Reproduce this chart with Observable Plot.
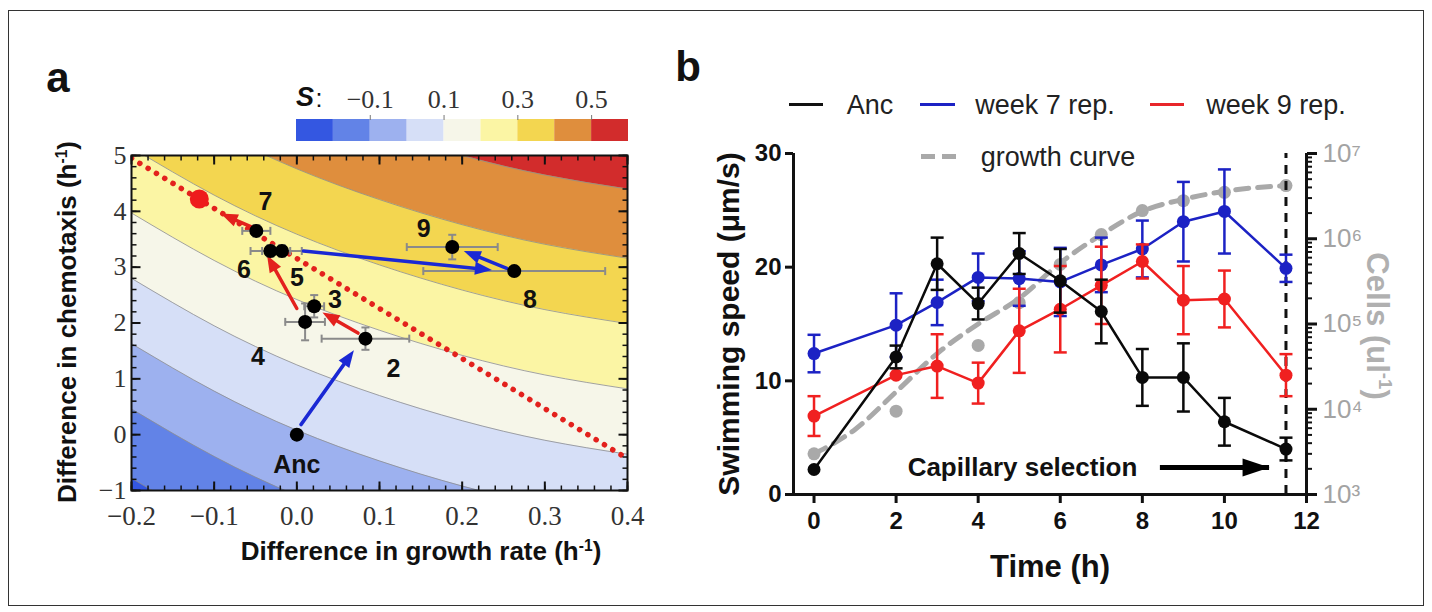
<!DOCTYPE html>
<html><head><meta charset="utf-8">
<script src="https://cdn.jsdelivr.net/npm/d3@7"></script>
<script src="https://cdn.jsdelivr.net/npm/@observablehq/plot@0.6"></script>
<style>
body{margin:0;background:#fff;font-family:"Liberation Sans",Arial,sans-serif;}
#root{position:relative;width:1432px;height:612px;overflow:hidden;background:#fff;}
.t{position:absolute;white-space:nowrap;line-height:1;}
</style></head><body><div id="root"></div>
<script>
// ---------- Panel a data ----------
const gridGrowth = [-0.2, -0.1, 0, 0.1, 0.2, 0.3, 0.4];
const contourLevels = [-0.2, -0.1, 0, 0.1, 0.2, 0.3, 0.4, 0.5];
const contourChemo = [
  [-0.78, -1.63, -2.33, -2.88, -3.33, -3.68, -3.93],
  [0.46, -0.39, -1.09, -1.64, -2.09, -2.44, -2.69],
  [1.63, 0.78, 0.08, -0.47, -0.92, -1.27, -1.52],
  [2.80, 1.95, 1.25, 0.70, 0.25, -0.10, -0.35],
  [3.97, 3.12, 2.42, 1.87, 1.42, 1.07, 0.82],
  [5.14, 4.29, 3.59, 3.04, 2.59, 2.24, 1.99],
  [6.31, 5.46, 4.76, 4.21, 3.76, 3.41, 3.16],
  [7.55, 6.70, 6.00, 5.45, 5.00, 4.65, 4.40]
];
const bandColors = ["#3457e1", "#6283e7", "#9db1ef", "#d6dff7", "#f6f6e9", "#fbf5a4", "#f3d650", "#df8e3d", "#d22c2c"];
const colorbarStarts = [-0.3, -0.2, -0.1, 0, 0.1, 0.2, 0.3, 0.4, 0.5];
const colorbarTicks = [-0.1, 0.1, 0.3, 0.5];

const labelsA = ["Anc", "2", "3", "4", "5", "6", "7", "8", "9"];
const growthDiff = [0.000, 0.083, 0.021, 0.010, -0.018, -0.032, -0.049, 0.263, 0.188];
const chemoDiff = [0.00, 1.72, 2.30, 2.02, 3.29, 3.29, 3.65, 2.93, 3.36];
const growthErr = [0.000, 0.053, 0.012, 0.024, 0.024, 0.024, 0.017, 0.110, 0.055];
const chemoErr = [0.08, 0.20, 0.20, 0.33, 0.10, 0.10, 0.10, 0.05, 0.22];
const labelGrowth = [0.000, 0.117, 0.046, -0.047, 0.000, -0.064, -0.038, 0.282, 0.1535];
const labelChemo = [-0.55, 1.18, 2.41, 1.40, 2.80, 2.95, 4.17, 2.41, 3.69];

const arrowFromGrowth = [0.005, 0.074, 0.000, -0.055, 0.008, 0.254];
const arrowFromChemo = [0.18, 1.82, 2.26, 3.72, 3.29, 2.98];
const arrowToGrowth = [0.069, 0.031, -0.036, -0.092, 0.236, 0.202];
const arrowToChemo = [1.51, 2.19, 3.215, 3.96, 2.95, 3.29];
const arrowKind = ["blue", "red", "red", "red", "blue", "blue"];

const optimumGrowth = [-0.118];
const optimumChemo = [4.22];
const frontGrowth = [-0.2, 0.4];
const frontChemo = [4.95, -0.43];

const xTicksA = [-0.2, -0.1, 0, 0.1, 0.2, 0.3, 0.4];
const yTicksA = [-1, 0, 1, 2, 3, 4, 5];

// ---------- Panel b data ----------
const timeH = [0, 2, 3, 4, 5, 6, 7, 8, 9, 10, 11.5];
const ancSpeed = [2.2, 12.1, 20.3, 16.8, 21.2, 18.8, 16.1, 10.3, 10.3, 6.4, 4.0];
const ancErr = [0, 1.0, 2.3, 1.4, 1.8, 2.8, 2.8, 2.5, 3.0, 2.1, 1.0];
const wk7Speed = [12.4, 14.9, 16.9, 19.1, 19.0, 18.7, 20.2, 21.6, 24.0, 24.9, 19.9];
const wk7Err = [1.65, 2.8, 2.0, 2.1, 2.4, 3.0, 2.4, 2.5, 3.5, 3.7, 1.2];
const wk9Speed = [6.9, 10.5, 11.3, 9.8, 14.4, 16.3, 18.4, 20.5, 17.1, 17.2, 10.5];
const wk9Err = [1.75, 0, 2.8, 1.8, 3.7, 3.8, 3.4, 1.5, 3.0, 2.5, 1.85];

const growthDotTime = [0, 2, 4, 5, 6, 7, 8, 9, 10, 11.5];
const growthDotCells = [3000, 9500, 56000, 178000, 500000, 1120000, 2140000, 2800000, 3500000, 4200000];
const growthCurveTime = [0, 1, 2, 3, 4, 5, 6, 7, 8, 9, 10, 11.5];
const growthCurveCells = [3000, 5800, 16000, 45000, 100000, 200000, 520000, 1120000, 2100000, 2900000, 3600000, 4200000];

const xTicksB = [0, 2, 4, 6, 8, 10, 12];
const yTicksB = [0, 10, 20, 30];
const cellDecades = [1e3, 1e4, 1e5, 1e6, 1e7];
const selectionTime = [11.5];
const captionPos = {x: 5.08, y: 2.37};
const captionArrow = {x1: 8.44, x2: 11.1, y: 2.37};

// ---------- helpers ----------
const root = document.getElementById("root");
function mount(svg, left, top) {
  svg.style.position = "absolute";
  svg.style.left = left + "px";
  svg.style.top = top + "px";
  svg.style.background = "transparent";
  svg.style.overflow = "visible";
  svg.style.maxWidth = "none";
  root.appendChild(svg);
}
function label(html, cx, cy, css, rot = 0) {
  const d = document.createElement("div");
  d.className = "t";
  d.innerHTML = html;
  d.style.cssText += `left:${cx}px;top:${cy}px;transform:translate(-50%,-50%) rotate(${rot}deg);${css}`;
  root.appendChild(d);
}
function swatch(x, y, w, h, color) {
  const d = document.createElement("div");
  d.style.cssText = `position:absolute;left:${x}px;top:${y}px;width:${w}px;height:${h}px;background:${color};`;
  root.appendChild(d);
}
const vline = {draw(ctx, size) { const r = Math.sqrt(size / Math.PI); ctx.moveTo(0, -r); ctx.lineTo(0, r); }};
const hline = {draw(ctx, size) { const r = Math.sqrt(size / Math.PI); ctx.moveTo(-r, 0); ctx.lineTo(r, 0); }};
function headSymbol(angle, L, W) {
  const c = Math.cos(angle), s = Math.sin(angle);
  return {draw(ctx) {
    const bx = -L * c, by = -L * s, px = -s * W / 2, py = c * W / 2;
    ctx.moveTo(0, 0); ctx.lineTo(bx + px, by + py); ctx.lineTo(bx - px, by - py); ctx.closePath();
  }};
}
const minus = (s) => String(s).replace("-", "\u2212");
const SANS = "Liberation Sans, Arial, sans-serif";
const SERIF = "Liberation Serif, Times New Roman, serif";

// ---------- Panel a ----------
const idxA = labelsA.map((_, i) => i);
const bands = contourLevels.map((lev, j) => gridGrowth.map((g, i) => ({g, c: contourChemo[j][i]})));
const fillTop = 9;
const xMinorA = d3.range(-0.2, 0.4001, 0.02);
const yMinorA = d3.range(-1, 5.001, 0.2);
const xDomA = [-0.2, 0.4], yDomA = [-1, 5];
const arrowColors = {blue: "#1a28d4", red: "#e3211d"};
const idxArrow = arrowKind.map((k, i) => i);

function buildA(extra) {
  return Plot.plot({
    width: 660, height: 612,
    marginLeft: 131, marginRight: 33, marginTop: 155, marginBottom: 122,
    x: {domain: xDomA}, y: {domain: yDomA},
    style: {background: "transparent", overflow: "visible"},
    marks: [
      Plot.frame({fill: bandColors[0]}),
      ...bands.map((pts, j) => Plot.areaY(pts, {x: "g", y1: "c", y2: () => fillTop, fill: bandColors[j + 1], curve: "natural", clip: true})),
      ...bands.map((pts) => Plot.line(pts, {x: "g", y: "c", stroke: "#8d8d8d", strokeWidth: 1, strokeOpacity: 0.8, curve: "natural", clip: true})),
      Plot.line(frontGrowth.map((g, i) => ({g, c: frontChemo[i]})), {x: "g", y: "c", stroke: "#e3211d", strokeWidth: 5.5, strokeDasharray: "0.1 9.6", strokeLinecap: "round", clip: true}),
      // error bars
      Plot.ruleY(idxA.filter(i => growthErr[i] > 0), {y: i => chemoDiff[i], x1: i => growthDiff[i] - growthErr[i], x2: i => growthDiff[i] + growthErr[i], stroke: "#8a8a8a", strokeWidth: 2}),
      Plot.dot(idxA.filter(i => growthErr[i] > 0), {x: i => growthDiff[i] - growthErr[i], y: i => chemoDiff[i], symbol: vline, r: 4, stroke: "#8a8a8a", strokeWidth: 2, fill: "none"}),
      Plot.dot(idxA.filter(i => growthErr[i] > 0), {x: i => growthDiff[i] + growthErr[i], y: i => chemoDiff[i], symbol: vline, r: 4, stroke: "#8a8a8a", strokeWidth: 2, fill: "none"}),
      Plot.ruleX(idxA, {x: i => growthDiff[i], y1: i => chemoDiff[i] - chemoErr[i], y2: i => chemoDiff[i] + chemoErr[i], stroke: "#8a8a8a", strokeWidth: 2}),
      Plot.dot(idxA, {x: i => growthDiff[i], y: i => chemoDiff[i] - chemoErr[i], symbol: hline, r: 4, stroke: "#8a8a8a", strokeWidth: 2, fill: "none"}),
      Plot.dot(idxA, {x: i => growthDiff[i], y: i => chemoDiff[i] + chemoErr[i], symbol: hline, r: 4, stroke: "#8a8a8a", strokeWidth: 2, fill: "none"}),
      // arrow shafts
      ...["red", "blue"].map(k => Plot.arrow(idxArrow.filter(i => arrowKind[i] === k), {x1: i => arrowFromGrowth[i], y1: i => arrowFromChemo[i], x2: i => arrowToGrowth[i], y2: i => arrowToChemo[i], stroke: arrowColors[k], strokeWidth: 3.5, headLength: 0, insetEnd: 8})),
      ...extra,
      Plot.dot(optimumGrowth, {x: d => d, y: (d, i) => optimumChemo[i], r: 9.5, fill: "#ee1c1c"}),
      Plot.dot(idxA, {x: i => growthDiff[i], y: i => chemoDiff[i], r: 7, fill: "#000"}),
      Plot.text(idxA, {x: i => labelGrowth[i], y: i => labelChemo[i], text: i => labelsA[i], fontSize: 25, fontWeight: "bold", fill: "#111", fontFamily: SANS}),
      Plot.frame({stroke: "#111", strokeWidth: 2}),
      // inward ticks
      Plot.dot(xMinorA, {x: d => d, y: () => yDomA[0], symbol: vline, r: 2.5, dy: -2.5, stroke: "#111", strokeWidth: 1.5}),
      Plot.dot(xMinorA, {x: d => d, y: () => yDomA[1], symbol: vline, r: 2.5, dy: 2.5, stroke: "#111", strokeWidth: 1.5}),
      Plot.dot(xTicksA, {x: d => d, y: () => yDomA[0], symbol: vline, r: 4.5, dy: -4.5, stroke: "#111", strokeWidth: 2}),
      Plot.dot(xTicksA, {x: d => d, y: () => yDomA[1], symbol: vline, r: 4.5, dy: 4.5, stroke: "#111", strokeWidth: 2}),
      Plot.dot(yMinorA, {y: d => d, x: () => xDomA[0], symbol: hline, r: 2.5, dx: 2.5, stroke: "#111", strokeWidth: 1.5}),
      Plot.dot(yMinorA, {y: d => d, x: () => xDomA[1], symbol: hline, r: 2.5, dx: -2.5, stroke: "#111", strokeWidth: 1.5}),
      Plot.dot(yTicksA, {y: d => d, x: () => xDomA[0], symbol: hline, r: 4.5, dx: 4.5, stroke: "#111", strokeWidth: 2}),
      Plot.dot(yTicksA, {y: d => d, x: () => xDomA[1], symbol: hline, r: 4.5, dx: -4.5, stroke: "#111", strokeWidth: 2}),
      Plot.axisX({anchor: "bottom", ticks: xTicksA, tickSize: 0, tickPadding: 15, tickFormat: d => minus(d.toFixed(1)), fontSize: 27, fontFamily: SERIF, fill: "#333", label: null}),
      Plot.axisY({anchor: "left", ticks: yTicksA, tickSize: 0, tickPadding: 5, tickFormat: d => minus(d), fontSize: 26, fontFamily: SERIF, fill: "#333", label: null})
    ]
  });
}
// first pass: read the scales to orient the filled arrow heads
const probe = buildA([]);
const sxA = probe.scale("x"), syA = probe.scale("y");
const headMarks = idxArrow.map(i => {
  const ang = Math.atan2(syA.apply(arrowToChemo[i]) - syA.apply(arrowFromChemo[i]), sxA.apply(arrowToGrowth[i]) - sxA.apply(arrowFromGrowth[i]));
  return Plot.dot([i], {x: j => arrowToGrowth[j], y: j => arrowToChemo[j], symbol: headSymbol(ang, 17, 13), r: 5, fill: arrowColors[arrowKind[i]], stroke: "none"});
});
mount(buildA(headMarks), 0, 0);

// colorbar
const cbar = Plot.plot({
  width: 372, height: 141,
  marginLeft: 20, marginRight: 20, marginTop: 119, marginBottom: 0,
  x: {domain: [colorbarStarts[0], colorbarStarts[colorbarStarts.length - 1] + 0.1]},
  color: {type: "identity"},
  style: {background: "transparent", overflow: "visible"},
  marks: [
    Plot.rect(colorbarStarts, {x1: d => d, x2: d => d + 0.1, fill: (d, i) => bandColors[i]}),
    Plot.axisX({anchor: "top", ticks: colorbarTicks, tickSize: 5, tickPadding: 7, tickFormat: d => minus(d.toFixed(1)), fontSize: 26, fontFamily: SERIF, fill: "#333", stroke: "#777", label: null})
  ]
});
mount(cbar, 276, 0);
label("S", 305, 97, "font-size:27px;font-weight:bold;font-style:italic;color:#111;");
label(":", 319, 98, "font-size:25px;color:#111;");

// panel a titles
label("a", 58, 78, "font-size:42px;font-weight:bold;color:#111;");
label("Difference in chemotaxis (h<sup style='font-size:0.6em;vertical-align:0.6em'>-1</sup>)", 67, 322, "font-size:26px;font-weight:bold;color:#111;", -90);
label("Difference in growth rate (h<sup style='font-size:0.6em;vertical-align:0.6em'>-1</sup>)", 421, 551, "font-size:26px;font-weight:bold;color:#111;");

// ---------- Panel b ----------
const xDomB = [-0.5, 12], yDomB = [0, 30];
const cellDomain = [cellDecades[0], cellDecades[cellDecades.length - 1]];
const minorCells = [];
for (let k = 0; k < cellDecades.length - 1; k++) for (let m = 2; m <= 9; m++) minorCells.push(cellDecades[k] * m);
const sup = {"3": "\u00b3", "4": "\u2074", "5": "\u2075", "6": "\u2076", "7": "\u2077"};
const commonB = {width: 772, height: 612, marginLeft: 133, marginRight: 126, marginTop: 153, marginBottom: 118,
  style: {background: "transparent", overflow: "visible"}};

const growthPlot = Plot.plot({
  ...commonB,
  x: {domain: xDomB}, y: {type: "log", domain: cellDomain},
  marks: [
    Plot.line(growthCurveTime, {x: d => d, y: (d, i) => growthCurveCells[i], stroke: "#a9a9a9", strokeWidth: 5, strokeDasharray: "13 9", curve: "monotone-x"}),
    Plot.dot(growthDotTime, {x: d => d, y: (d, i) => growthDotCells[i], r: 6.5, fill: "#a9a9a9"}),
    Plot.ruleX([xDomB[1]], {y1: cellDomain[0], y2: cellDomain[1], stroke: "#111", strokeWidth: 3}),
    Plot.axisY({anchor: "right", ticks: minorCells, tickSize: 5, tickFormat: () => "", stroke: "#111", strokeWidth: 2, label: null}),
    Plot.axisY({anchor: "right", ticks: cellDecades, tickSize: 10, tickFormat: () => "", stroke: "#111", strokeWidth: 3, label: null}),
    Plot.axisY({anchor: "right", ticks: cellDecades, tickSize: 0, tickPadding: 16, tickFormat: d => "10" + sup[String(Math.round(Math.log10(d)))], fontSize: 26, fill: "#a3a3a3", fontFamily: SANS, label: null}),
    Plot.axisX({ticks: [], label: null})
  ]
});
mount(growthPlot, 660, 0);

function series(values, errs, color) {
  const idx = timeH.map((_, i) => i);
  const e = idx.filter(i => errs[i] > 0);
  return [
    Plot.ruleX(e, {x: i => timeH[i], y1: i => values[i] - errs[i], y2: i => values[i] + errs[i], stroke: color, strokeWidth: 2.5}),
    Plot.dot(e, {x: i => timeH[i], y: i => values[i] - errs[i], symbol: hline, r: 6.5, stroke: color, strokeWidth: 2.5, fill: "none"}),
    Plot.dot(e, {x: i => timeH[i], y: i => values[i] + errs[i], symbol: hline, r: 6.5, stroke: color, strokeWidth: 2.5, fill: "none"}),
    Plot.line(idx, {x: i => timeH[i], y: i => values[i], stroke: color, strokeWidth: 2.5}),
    Plot.dot(idx, {x: i => timeH[i], y: i => values[i], r: 6.5, fill: color})
  ];
}

const speedPlot = Plot.plot({
  ...commonB,
  x: {domain: xDomB}, y: {domain: yDomB},
  marks: [
    Plot.ruleX(selectionTime, {y1: yDomB[0], y2: yDomB[1], stroke: "#111", strokeWidth: 3, strokeDasharray: "9 7"}),
    ...series(wk7Speed, wk7Err, "#1c22c4"),
    ...series(wk9Speed, wk9Err, "#f02020"),
    ...series(ancSpeed, ancErr, "#0a0a0a"),
    Plot.text([captionPos], {x: "x", y: "y", text: () => "Capillary selection", fontSize: 26, fontWeight: "bold", fill: "#111", fontFamily: SANS}),
    Plot.ruleY([captionArrow], {y: "y", x1: "x1", x2: "x2", stroke: "#000", strokeWidth: 5}),
    Plot.dot([captionArrow], {x: "x2", y: "y", symbol: headSymbol(0, 27, 18), r: 5, fill: "#000"}),
    Plot.ruleX([xDomB[0]], {y1: yDomB[0], y2: yDomB[1], stroke: "#111", strokeWidth: 3}),
    Plot.ruleY([yDomB[0]], {x1: xDomB[0], x2: xDomB[1], stroke: "#111", strokeWidth: 3}),
    Plot.axisY({anchor: "left", ticks: yTicksB, tickSize: 8, tickPadding: 4, stroke: "#111", strokeWidth: 3, fontSize: 24, fontWeight: "bold", fill: "#111", fontFamily: SANS, label: null}),
    Plot.axisX({anchor: "bottom", ticks: xTicksB, tickSize: 9, tickPadding: 8, stroke: "#111", strokeWidth: 3, fontSize: 24, fontWeight: "bold", fill: "#111", fontFamily: SANS, label: null})
  ]
});
mount(speedPlot, 660, 0);

// panel b titles and legend
label("b", 688, 67, "font-size:42px;font-weight:bold;color:#111;");
label("Swimming speed (\u03bcm/s)", 729, 324, "font-size:30px;font-weight:bold;color:#111;", -90);
label("Time (h)", 1050, 566, "font-size:31px;font-weight:bold;color:#111;");
label("Cells (ul<sup style='font-size:0.6em;vertical-align:0.6em'>-1</sup>)", 1378, 326, "font-size:31px;font-weight:bold;color:#b0b0b0;", 90);

swatch(789, 103, 34, 3, "#111");
label("Anc", 870, 105, "font-size:27px;color:#222;");
swatch(920, 103, 35, 3, "#1c22c4");
label("week 7 rep.", 1045, 105, "font-size:27px;color:#222;");
swatch(1150, 103, 34, 3, "#e8262a");
label("week 9 rep.", 1276, 105, "font-size:27px;color:#222;");
swatch(921, 154, 14, 5, "#a9a9a9");
swatch(942, 154, 14, 5, "#a9a9a9");
label("growth curve", 1058, 157, "font-size:27px;color:#222;");

// outer frame
const fr = document.createElement("div");
fr.style.cssText = "position:absolute;left:8px;top:10px;width:1414px;height:594px;border:1px solid #333;pointer-events:none;";
root.appendChild(fr);
</script></body></html>
